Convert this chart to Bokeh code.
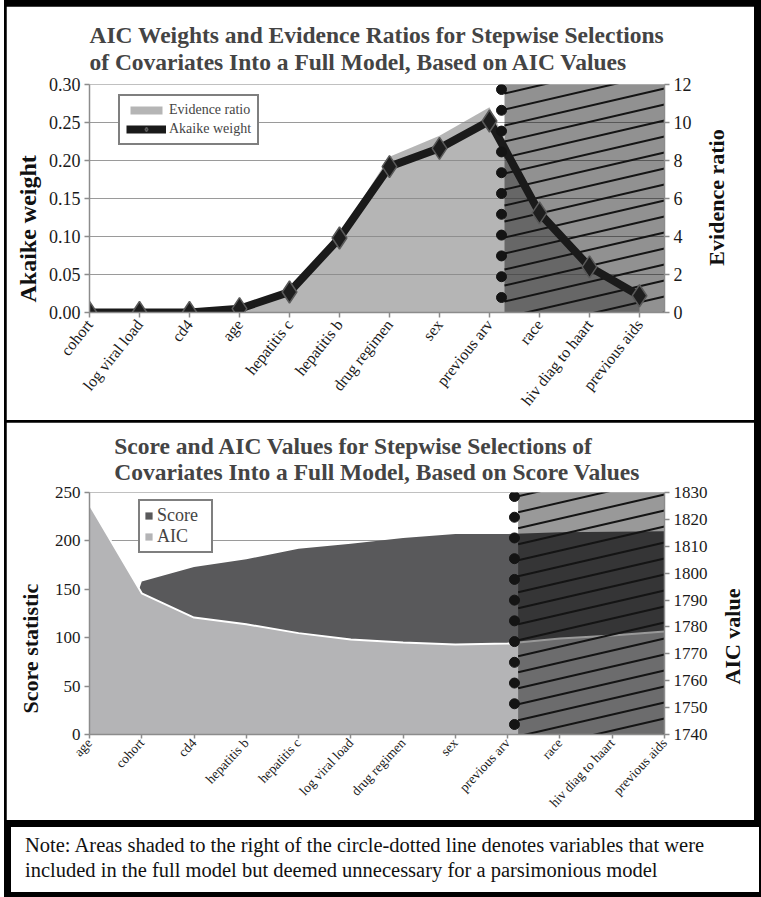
from math import pi
import numpy as np
from bokeh.plotting import figure
from bokeh.models import (Range1d, LinearAxis, FixedTicker, Legend, LegendItem, Label, Title,
                          NumeralTickFormatter, Div)
from bokeh.layouts import column
from bokeh.embed import file_html
from bokeh.resources import INLINE

SERIF = "Liberation Serif"

# ---------------- data ----------------
top_categories = ["cohort", "log viral load", "cd4", "age", "hepatitis c", "hepatitis b",
                  "drug regimen", "sex", "previous arv", "race", "hiv diag to haart",
                  "previous aids"]
akaike_weight = [0.0, 0.0, 0.0, 0.005, 0.027, 0.098, 0.192, 0.216, 0.252, 0.131, 0.060, 0.022]
evidence_ratio = [0.0, 0.0, 0.0, 0.2, 1.1, 4.1, 8.2, 9.3, 10.8, 5.3, 2.5, 0.9]
top_last_kept = "previous arv"

bottom_categories = ["age", "cohort", "cd4", "hepatitis b", "hepatitis c", "log viral load",
                     "drug regimen", "sex", "previous arv", "race", "hiv diag to haart",
                     "previous aids"]
score_statistic = [0, 158, 173, 181, 192, 197, 203, 207, 207, 209, 209.5, 210]
aic_values = [1825.5, 1792.5, 1783.5, 1781.0, 1777.7, 1775.3, 1774.2, 1773.5, 1773.8,
              1775.7, 1776.8, 1778.3]
bottom_last_kept = "previous arv"

top_left_ticks = [0.0, 0.05, 0.10, 0.15, 0.20, 0.25, 0.30]
top_right_ticks = [0, 2, 4, 6, 8, 10, 12]
bottom_left_ticks = [0, 50, 100, 150, 200, 250]
bottom_right_ticks = [1740, 1750, 1760, 1770, 1780, 1790, 1800, 1810, 1820, 1830]

top_title = ["AIC Weights and Evidence Ratios for Stepwise Selections",
             "of Covariates Into a Full Model, Based on AIC Values"]
bottom_title = ["Score and AIC Values for Stepwise Selections of",
                "Covariates Into a Full Model, Based on Score Values"]
top_axis_labels = ["Akaike weight", "Evidence ratio"]
bottom_axis_labels = ["Score statistic", "AIC value"]
note_lines = ["Note: Areas shaded to the right of the circle-dotted line denotes variables that were",
              "included in the full model but deemed unnecessary for a parsimonious model"]


# ---------------- helpers ----------------
def style_axis(ax, size):
    ax.axis_line_color = "#8c8c8c"
    ax.axis_line_width = 1.5
    ax.major_tick_line_color = "#8c8c8c"
    ax.major_tick_line_width = 1.5
    ax.major_tick_out = 5
    ax.major_tick_in = 0
    ax.minor_tick_line_color = None
    ax.major_label_standoff = 4
    ax.major_label_text_font = SERIF
    ax.major_label_text_font_size = size
    ax.major_label_text_color = "#1a1a1a"


def add_titles(p, lines, standoff, line_height):
    p.title.text = "\n".join(lines)
    p.title.align = "center"
    p.title.text_font = SERIF
    p.title.text_font_style = "bold"
    p.title.text_font_size = "23.5px"
    p.title.text_line_height = line_height
    p.title.standoff = standoff


def add_left_label(p, text, offset, standoff, size):
    # reads bottom-to-top, starting `offset` px above the bottom of the frame
    p.add_layout(Title(text=text, align="left", offset=offset, standoff=standoff,
                       text_font=SERIF, text_font_style="bold", text_font_size=size,
                       text_color="#111111"), "left")


def add_right_label(p, text, sx, sy, size):
    p.add_layout(Label(x=sx, y=sy, x_units="screen", y_units="screen", text=text,
                       angle=pi / 2, text_align="center", text_baseline="middle",
                       text_font=SERIF, text_font_style="bold", text_font_size=size,
                       text_color="#111111"), "right")


def add_hatch(p, x_start, frame_w, frame_h, yr, y_range_name, slope=0.23, gap=16.0):
    xr0, xr1 = p.x_range.start, p.x_range.end
    kx = frame_w / (xr1 - xr0)
    ky = frame_h / (yr.end - yr.start)
    xl = (x_start - xr0) * kx
    run = frame_w - xl
    starts = np.arange(-slope * run, frame_h + gap, gap)
    x0 = np.full(len(starts), x_start)
    x1 = np.full(len(starts), xr1)
    y0 = yr.start + starts / ky
    y1 = yr.start + (starts + slope * run) / ky
    p.segment(x0=x0, y0=y0, x1=x1, y1=y1, line_color="#141414", line_width=2,
              y_range_name=y_range_name)


def add_dots(p, x, frame_h, yr, y_range_name, n, pad_top, pad_bottom):
    ky = frame_h / (yr.end - yr.start)
    ys = yr.start + np.linspace(pad_bottom, frame_h - pad_top, n) / ky
    p.scatter(x=[x] * n, y=ys, marker="circle", size=10, fill_color="#141414",
              line_color="#141414", y_range_name=y_range_name)


# ---------------- top chart ----------------
T_W, T_H = 748, 414
T_L, T_R, T_T, T_B = 83, 87, 78, 108
T_FW, T_FH = T_W - T_L - T_R, T_H - T_T - T_B

xs_top = list(range(len(top_categories)))
p1 = figure(width=T_W, height=T_H, x_range=Range1d(0, len(top_categories) - 0.5),
            y_range=Range1d(0, 0.30), output_backend="svg", toolbar_location=None,
            min_border_left=T_L, min_border_right=T_R, min_border_top=T_T,
            min_border_bottom=T_B)
p1.extra_y_ranges = {"er": Range1d(0, 12)}
p1.outline_line_color = None
p1.xgrid.visible = False
p1.ygrid.ticker = FixedTicker(ticks=top_left_ticks)
p1.ygrid.grid_line_color = "#9a9a9a"
p1.yaxis.ticker = FixedTicker(ticks=top_left_ticks)
p1.yaxis.formatter = NumeralTickFormatter(format="0.00")
style_axis(p1.yaxis[0], "18px")
p1.xaxis.ticker = FixedTicker(ticks=xs_top)
p1.xaxis.major_label_overrides = {i: c for i, c in enumerate(top_categories)}
p1.xaxis.major_label_orientation = 0.9
style_axis(p1.xaxis[0], "16px")

r_ax1 = LinearAxis(y_range_name="er", ticker=FixedTicker(ticks=top_right_ticks))
style_axis(r_ax1, "18px")
p1.add_layout(r_ax1, "right")
add_titles(p1, top_title, 19, 1.05)
add_left_label(p1, top_axis_labels[0], 10, 10, "24px")
add_right_label(p1, top_axis_labels[1], 22, 115, "22px")

cut_top = top_categories.index(top_last_kept) + 0.3
er_area = p1.varea(x=xs_top, y1=0, y2=evidence_ratio, y_range_name="er",
                   fill_color="#888888", fill_alpha=0.62)
p1.quad(left=cut_top, right=p1.x_range.end, bottom=0, top=0.30,
        fill_color="black", fill_alpha=0.43, line_color=None)
add_hatch(p1, cut_top, T_FW, T_FH, p1.y_range, "default")
aw_line = p1.line(x=xs_top, y=akaike_weight, line_color="#1a1a1a", line_width=8)
aw_pts = p1.scatter(x=xs_top, y=akaike_weight, marker="diamond", size=22,
                    fill_color="#1e1e1e", line_color="#5a5a5a", line_width=1.5)
add_dots(p1, cut_top - 0.06, T_FH, p1.y_range, "default", 11, 5, 15)

leg1 = Legend(items=[LegendItem(label="Evidence ratio", renderers=[er_area]),
                     LegendItem(label="Akaike weight", renderers=[aw_line, aw_pts])],
              location=(29, 167))
leg1.border_line_color = "black"
leg1.border_line_width = 2
leg1.background_fill_color = "white"
leg1.background_fill_alpha = 1
leg1.label_text_font = SERIF
leg1.label_text_font_size = "14px"
leg1.glyph_width = 40
leg1.glyph_height = 10
leg1.label_standoff = 3
leg1.padding = 6
leg1.spacing = 3
leg1.margin = 0
p1.add_layout(leg1)

# ---------------- bottom chart ----------------
B_W = 748
B_L, B_R, B_T, B_B = 81, 90, 70, 86
B_FH = 242
B_H = B_T + B_FH + B_B
B_FW = B_W - B_L - B_R

xs_bot = list(range(len(bottom_categories)))
p2 = figure(width=B_W, height=B_H, x_range=Range1d(0, len(bottom_categories) - 1),
            y_range=Range1d(0, 250), output_backend="svg", toolbar_location=None,
            min_border_left=B_L, min_border_right=B_R, min_border_top=B_T,
            min_border_bottom=B_B)
p2.extra_y_ranges = {"aic": Range1d(1740, 1830)}
p2.outline_line_color = None
p2.xgrid.visible = False
p2.ygrid.ticker = FixedTicker(ticks=bottom_left_ticks)
p2.ygrid.grid_line_color = "#9a9a9a"
p2.yaxis.ticker = FixedTicker(ticks=bottom_left_ticks)
style_axis(p2.yaxis[0], "17px")
p2.xaxis.ticker = FixedTicker(ticks=xs_bot)
p2.xaxis.major_label_overrides = {i: c for i, c in enumerate(bottom_categories)}
p2.xaxis.major_label_orientation = 0.82
style_axis(p2.xaxis[0], "13.5px")
p2.xaxis.major_tick_out = 4
p2.xaxis.major_label_standoff = 2

r_ax2 = LinearAxis(y_range_name="aic", ticker=FixedTicker(ticks=bottom_right_ticks))
style_axis(r_ax2, "17px")
p2.add_layout(r_ax2, "right")
add_titles(p2, bottom_title, 14, 1.02)
add_left_label(p2, bottom_axis_labels[0], 21, 17, "22px")
add_right_label(p2, bottom_axis_labels[1], 22, 98, "22px")

cut_bot = bottom_categories.index(bottom_last_kept) + 0.2
sc_area = p2.varea(x=xs_bot, y1=0, y2=score_statistic, fill_color="#59595b")
aic_area = p2.varea(x=xs_bot, y1=1740, y2=aic_values, y_range_name="aic",
                    fill_color="#b4b4b6")
p2.line(x=xs_bot, y=aic_values, y_range_name="aic", line_color="white", line_width=2)
p2.quad(left=cut_bot, right=p2.x_range.end, bottom=0, top=250,
        fill_color="black", fill_alpha=0.4, line_color=None)
add_hatch(p2, cut_bot, B_FW, B_FH, p2.y_range, "default")
add_dots(p2, cut_bot - 0.07, B_FH, p2.y_range, "default", 12, 4, 10)

leg2 = Legend(items=[LegendItem(label="Score", renderers=[sc_area]),
                     LegendItem(label="AIC", renderers=[aic_area])],
              location=(49, 181))
leg2.border_line_color = "black"
leg2.border_line_width = 2
leg2.background_fill_color = "white"
leg2.background_fill_alpha = 1
leg2.label_text_font = SERIF
leg2.label_text_font_size = "18px"
leg2.glyph_width = 9
leg2.glyph_height = 9
leg2.label_standoff = 4
leg2.label_width = 50
leg2.label_height = 16
leg2.padding = 4
leg2.spacing = 0
leg2.margin = 0
p2.add_layout(leg2)

# ---------------- note ----------------
NOTE_H = 887 - (6 + T_H + 2 + B_H + 2)
note = Div(text="<br>".join(note_lines), width=748, height=NOTE_H,
           styles={"background-color": "white", "font-family": SERIF, "font-size": "20.5px",
                   "line-height": "25px", "padding": "%dpx 0 0 14px" % max((NOTE_H - 52) // 2, 0),
                   "box-sizing": "border-box", "color": "#111111"})

layout = column(p1, p2, note, spacing=2,
                styles={"background-color": "black", "padding": "6px 2px 2px 2px",
                        "margin": "0 0 0 4px"})

open("out.html", "w").write(file_html(layout, INLINE))
